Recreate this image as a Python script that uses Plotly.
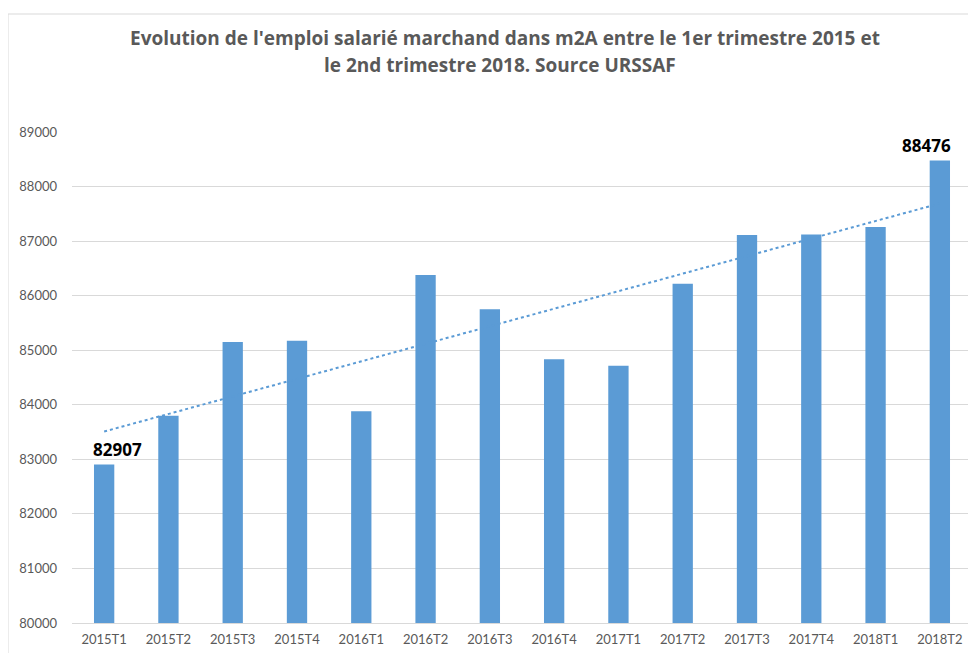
import plotly.graph_objects as go

categories = ["2015T1", "2015T2", "2015T3", "2015T4", "2016T1", "2016T2", "2016T3",
              "2016T4", "2017T1", "2017T2", "2017T3", "2017T4", "2018T1", "2018T2"]
emplois = [82907, 83797, 85149, 85172, 83881, 86379, 85753,
           84836, 84714, 86218, 87112, 87120, 87257, 88476]
# Trendline as drawn in the reference (values at first and last category)
trend_categories = ["2015T1", "2018T2"]
trend_values = [83510, 87690]
labelled = ["2015T1", "2018T2"]
y_ticks = [80000, 81000, 82000, 83000, 84000, 85000, 86000, 87000, 88000, 89000]

title_lines = ["Evolution de l'emploi salarié marchand dans m2A entre le 1er trimestre 2015 et",
               "le 2nd trimestre 2018. Source URSSAF"]

BLUE = "#5B9BD5"
GREY = "#595959"
FONT = "Lato"
TFONT = "Open Sans"

# page body has an 8px margin: figure occupies page pixels 8..976 x 8..653
OFF = 8
W, H = 976 - OFF, 653 - OFF
PL, PT, PR, PB = 72, 132, 972, 623          # plot area in page pixels
L, T = PL - OFF, PT - OFF
R, B = W - (PR - OFF), H - (PB - OFF)
pw, ph = PR - PL, PB - PT


def px_x(p):
    return (p - PL) / pw


def px_y(p):
    return (PB - p) / ph


fig = go.Figure()
fig.add_trace(go.Bar(
    x=categories, y=emplois,
    marker=dict(color=BLUE, line=dict(width=0)),
    hoverinfo="x+y",
))
fig.add_trace(go.Scatter(
    x=trend_categories, y=trend_values, mode="lines",
    line=dict(color=BLUE, width=2, dash="dot"),
    hoverinfo="skip",
))

# data labels (first and last bars), nudged inward like the original
for i, c in enumerate(labelled):
    v = emplois[categories.index(c)]
    fig.add_annotation(text=str(v), x=c, y=v, xref="x", yref="y",
                       xanchor="center", yanchor="middle", showarrow=False,
                       xshift=13 if i == 0 else -13, yshift=15,
                       font=dict(family=TFONT, size=17, color="#000000", weight="bold"))

fig.add_shape(type="rect", xref="paper", yref="paper",
              x0=px_x(8), x1=px_x(990), y0=px_y(670), y1=px_y(14),
              line=dict(color="#D9D9D9", width=1), fillcolor="rgba(0,0,0,0)", layer="below")

for line, cx, cy in zip(title_lines, [505, 500], [38, 65]):
    fig.add_annotation(text=line, xref="paper", yref="paper", x=px_x(cx), y=px_y(cy),
                       xanchor="center", yanchor="middle", showarrow=False,
                       font=dict(family=TFONT, size=19, color=GREY, weight="bold"))

fig.update_layout(
    width=W, height=H,
    margin=dict(l=L, r=R, t=T, b=B),
    paper_bgcolor="white", plot_bgcolor="white",
    showlegend=False,
    bargap=0.684,
    font=dict(family=FONT, color=GREY),
)
fig.update_xaxes(
    showgrid=False, showline=True, linecolor="#D9D9D9", linewidth=1,
    tickfont=dict(family=FONT, size=13, color=GREY), ticks="",
    ticklabelstandoff=4,
)
fig.update_yaxes(
    range=[80000, 89000], tickvals=y_ticks, ticktext=[str(t) for t in y_ticks],
    showgrid=True, gridcolor="#D9D9D9", gridwidth=1, zeroline=False,
    showline=False, ticks="",
    tickfont=dict(family=FONT, size=13, color=GREY),
    ticklabelstandoff=14,
)

fig.write_html("out.html")
